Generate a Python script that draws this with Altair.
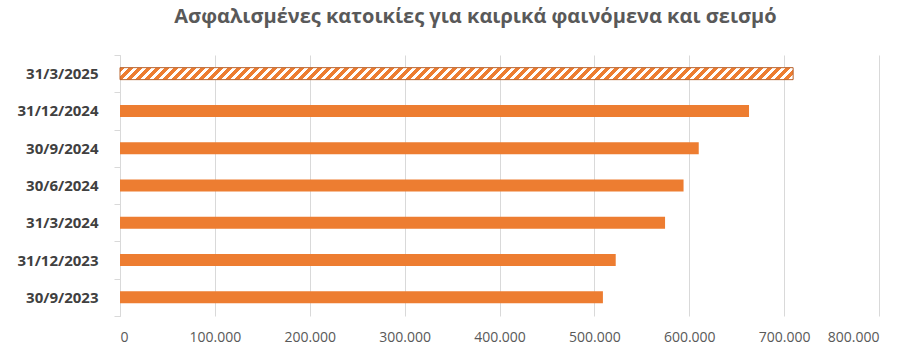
import altair as alt
import pandas as pd

title_text = "Ασφαλισμένες κατοικίες για καιρικά φαινόμενα και σεισμό"
dates = ["31/3/2025", "31/12/2024", "30/9/2024", "30/6/2024", "31/3/2024", "31/12/2023", "30/9/2023"]
values = [709500, 663000, 610000, 594000, 574500, 522500, 509000]
hatched = [True, False, False, False, False, False, False]
x_ticks = [0, 100000, 200000, 300000, 400000, 500000, 600000, 700000, 800000]
X_MAX = 800000

PW, PH = 759, 261
BAR = 12
ORANGE = "#ED7D31"
GRID = "#D9D9D9"
FONT = "Open Sans"

df = pd.DataFrame({"date": dates, "value": values, "hatched": hatched})

# diagonal stripe fill built as a linear gradient with hard stops
hv = [v for v, h in zip(values, hatched) if h][0]
bw = hv / X_MAX * PW
r = BAR / bw
span = bw + BAR
a = span / (bw * (1 + r * r))
period = 9.0
n = int(span / period) + 1
stops = []
for i in range(n):
    s = min(1.0, i * period / span)
    m = min(1.0, (i + 0.55) * period / span)
    e = min(1.0, (i + 1) * period / span)
    stops += [
        alt.GradientStop(color=ORANGE, offset=s),
        alt.GradientStop(color=ORANGE, offset=m),
        alt.GradientStop(color="#FFFFFF", offset=m),
        alt.GradientStop(color="#FFFFFF", offset=e),
    ]
stripes = alt.LinearGradient(gradient="linear", stops=stops, x1=0, y1=0, x2=a, y2=a * r)

base = alt.Chart(df).encode(
    y=alt.Y(
        "date:N",
        sort=dates,
        scale=alt.Scale(domain=dates, paddingInner=0, paddingOuter=0),
        axis=alt.Axis(
            title=None,
            labelFont=FONT,
            labelFontWeight="bold",
            labelFontSize=15,
            labelColor="#404040",
            domainColor=GRID,
            tickColor=GRID,
            tickSize=6,
            tickBand="extent",
            labelPadding=16,
            grid=False,
        ),
    ),
    x=alt.X(
        "value:Q",
        scale=alt.Scale(domain=[0, X_MAX], nice=False),
        axis=alt.Axis(
            title=None,
            values=x_ticks,
            labelExpr="replace(format(datum.value, ','), ',', '.')",
            labelFont=FONT,
            labelFontSize=14,
            labelColor="#595959",
            grid=True,
            gridColor=GRID,
            domain=False,
            ticks=False,
            tickSize=0,
            labelPadding=14,
        ),
    ),
)

solid = base.transform_filter("!datum.hatched").mark_bar(size=BAR, color=ORANGE)
hatch = base.transform_filter("datum.hatched").mark_bar(
    size=BAR, fill=stripes, stroke="#B8642E", strokeWidth=1
)

chart = (
    alt.layer(solid, hatch)
    .properties(
        width=PW,
        height=PH,
        autosize="none",
        padding={"left": 120, "top": 55, "right": 33, "bottom": 40},
        title=alt.TitleParams(
            text=title_text,
            anchor="middle",
            frame="group",
            dx=-24,
            offset=21,
            font=FONT,
            fontSize=20,
            fontWeight="bold",
            color="#595959",
        ),
    )
    .configure_view(stroke=None)
)

chart.save("out.html", embed_options={"renderer": "svg", "actions": False})
